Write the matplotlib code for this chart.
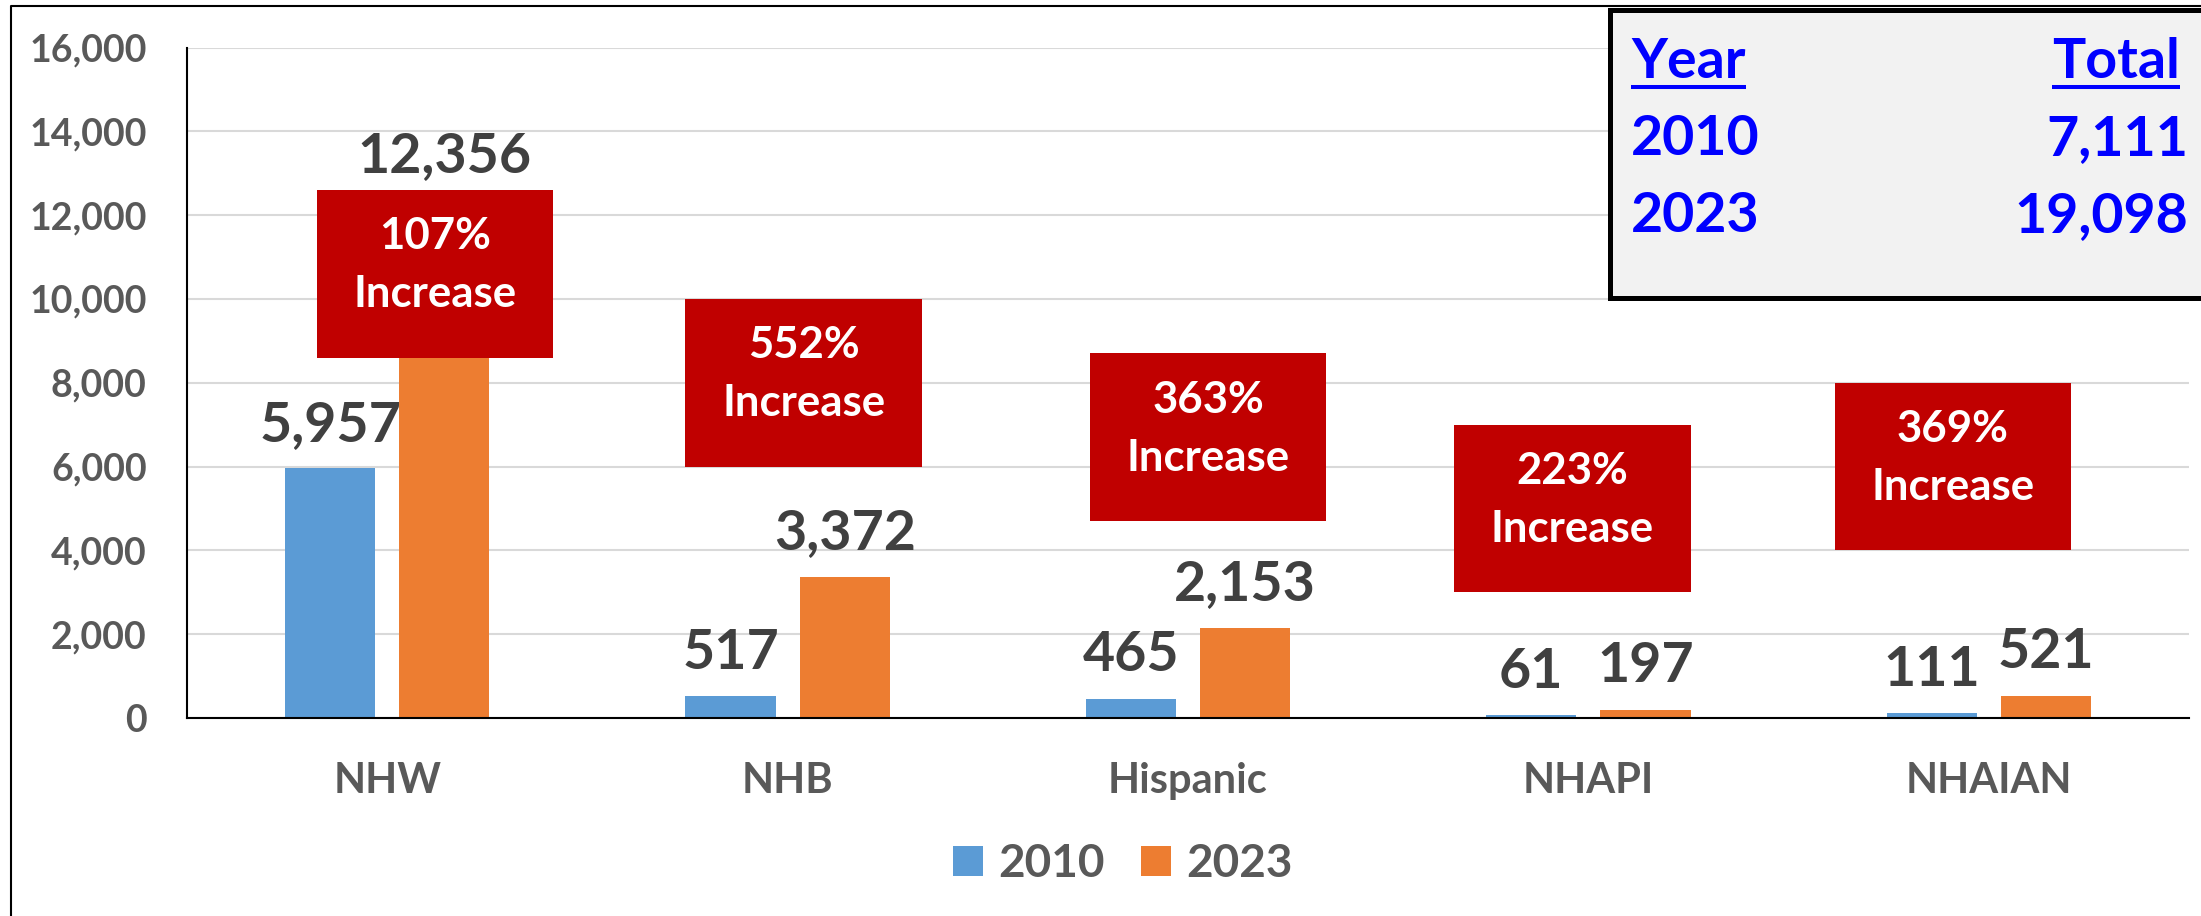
import matplotlib
matplotlib.use("Agg")
import matplotlib.pyplot as plt
import matplotlib.patches as mpatches
from matplotlib.lines import Line2D
import numpy as np

# ── Data ──────────────────────────────────────────────────────
categories   = ["NHW", "NHB", "Hispanic", "NHAPI", "NHAIAN"]
years        = ["2010", "2023"]
values_2010  = [5957, 517, 465, 61, 111]
values_2023  = [12356, 3372, 2153, 197, 521]
pct_increase = [107, 552, 363, 223, 369]
total_years  = ["2010", "2023"]
totals       = [7111, 19098]
y_ticks      = [0, 2000, 4000, 6000, 8000, 10000, 12000, 14000, 16000]

# ── Call-out box layout (data units) ─────────────────────────
box_x = [0.12, 1.04, 2.05, 2.96, 3.91]
box_y = [10600, 8000, 6700, 5000, 6000]
BOX_W, BOX_H = 0.59, 4000

BLUE   = "#5B9BD5"
ORANGE = "#ED7D31"
RED    = "#C00000"
DARK   = "#404040"
GREY   = "#595959"
W, H   = 2201, 916

plt.rcParams["font.family"] = ["Lato", "DejaVu Sans"]

fig = plt.figure(figsize=(W / 100, H / 100), dpi=100)
fig.patch.set_facecolor("white")
ax = fig.add_axes([187 / W, 1 - 718 / H, (2189 - 187) / W, (718 - 47.5) / H])

x = np.arange(len(categories))
bw, off = 0.225, 0.1425
b1 = ax.bar(x - off, values_2010, bw, color=BLUE, label=years[0], zorder=2)
b2 = ax.bar(x + off, values_2023, bw, color=ORANGE, label=years[1], zorder=2)

# ── Data labels ───────────────────────────────────────────────
for xs, vals in ((x - off, values_2010), (x + off, values_2023)):
    for xi, v in zip(xs, vals):
        ax.annotate(f"{v:,}", (xi, v), xytext=(0, 20),
                    textcoords="offset points", ha="center", va="baseline",
                    fontsize=40, fontweight="bold", color=DARK, zorder=7)

# ── Red call-out boxes ────────────────────────────────────────
for bx, by, p in zip(box_x, box_y, pct_increase):
    ax.add_patch(mpatches.Rectangle((bx - BOX_W / 2, by - BOX_H / 2),
                                    BOX_W, BOX_H, facecolor=RED,
                                    edgecolor="none", zorder=5))
    ax.text(bx, by + 200, f"{p}%\nIncrease", ha="center", va="center",
            color="white", fontsize=31.5, fontweight="bold",
            linespacing=1.55, zorder=6)

# ── Axes ──────────────────────────────────────────────────────
ax.set_xlim(-0.5, len(categories) - 0.5)
ax.set_ylim(0, 16000)
ax.set_yticks(y_ticks)
ax.set_yticklabels([f"{t:,}" for t in y_ticks])
ax.set_xticks(x)
ax.set_xticklabels(categories)
ax.tick_params(axis="y", length=0, pad=29, labelsize=27, labelcolor=GREY)
ax.tick_params(axis="x", length=0, pad=32, labelsize=30, labelcolor=GREY)
for lbl in ax.get_yticklabels() + ax.get_xticklabels():
    lbl.set_fontweight("bold")
ax.yaxis.grid(True, color="#D9D9D9", linewidth=1.5)
ax.set_axisbelow(True)
for s in ("top", "right"):
    ax.spines[s].set_visible(False)
for s in ("left", "bottom"):
    ax.spines[s].set_color("black")
    ax.spines[s].set_linewidth(1.5)
ax.spines["bottom"].set_zorder(3)

# ── Legend ────────────────────────────────────────────────────
fig.legend([b1, b2], years, loc="center", bbox_to_anchor=(1123 / W, 1 - 864 / H),
           ncol=2, frameon=False, prop={"size": 33, "weight": "bold"},
           labelcolor=GREY, handlelength=0.64, handleheight=0.64,
           handletextpad=0.34, columnspacing=0.8)

# ── Totals table (top right) ─────────────────────────────────
fig.add_artist(mpatches.Rectangle((1610 / W, 1 - 298 / H), 0.3, 288 / H,
                                  transform=fig.transFigure, facecolor="#F2F2F2",
                                  edgecolor="black", linewidth=3.6, zorder=10))
tkw = dict(color="#0000FF", fontsize=40, fontweight="bold", va="baseline", zorder=11)
t_year = fig.text(1631 / W, 1 - 78 / H, "Year", ha="left", **tkw)
t_total = fig.text(2180 / W, 1 - 78 / H, "Total", ha="right", **tkw)
for i, (yr, tot) in enumerate(zip(total_years, totals)):
    yy = 1 - (155 + 77 * i) / H
    fig.text(1631 / W, yy, yr, ha="left", **tkw)
    fig.text(2188 / W, yy, f"{tot:,}", ha="right", **tkw)

fig.canvas.draw()
r = fig.canvas.get_renderer()
for t in (t_year, t_total):
    bb = t.get_window_extent(r)
    fig.add_artist(Line2D([bb.x0 / W, bb.x1 / W], [1 - 87 / H, 1 - 87 / H],
                          transform=fig.transFigure, color="#0000FF",
                          linewidth=2.9, solid_capstyle="butt", zorder=11))

# ── Outer frame ───────────────────────────────────────────────
fig.add_artist(Line2D([11 / W, 11 / W, 1.0], [0, 1 - 6 / H, 1 - 6 / H],
                      transform=fig.transFigure, color="black", linewidth=1.5))

fig.savefig("out.png", dpi=100, facecolor="white")
